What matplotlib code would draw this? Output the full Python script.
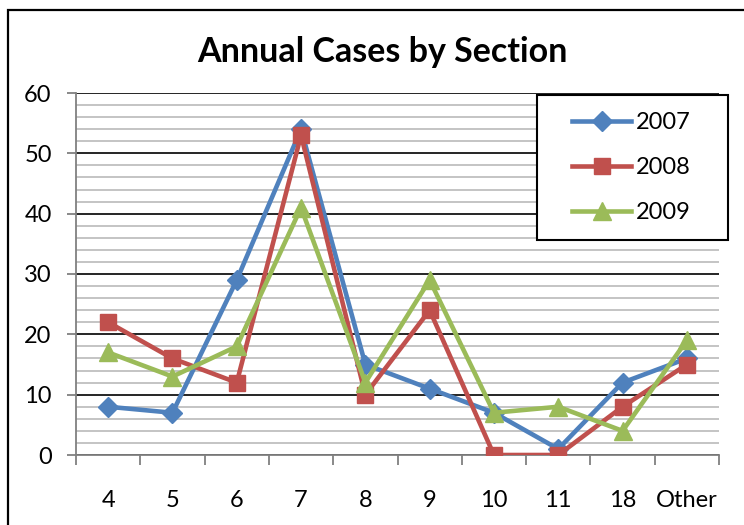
import matplotlib
matplotlib.use("Agg")
import matplotlib.pyplot as plt
from matplotlib.patches import Rectangle
from matplotlib.ticker import MultipleLocator, FixedLocator

categories = ["4", "5", "6", "7", "8", "9", "10", "11", "18", "Other"]
s2007 = [8, 7, 29, 54, 15, 11, 7, 1, 12, 16]
s2008 = [22, 16, 12, 53, 10, 24, 0, 0, 8, 15]
s2009 = [17, 13, 18, 41, 12, 29, 7, 8, 4, 19]
series_names = ["2007", "2008", "2009"]

plt.rcParams['font.family'] = ['Lato', 'DejaVu Sans']

W, H = 744, 525
fig = plt.figure(figsize=(W / 100, H / 100), dpi=100)
ax = fig.add_axes([76 / W, 1 - 455 / H, (719 - 76) / W, (455 - 93) / H])

# outer chart border
fig.add_artist(Rectangle((8 / W, -0.05), 1.1, (1 - 10 / H) + 0.05, transform=fig.transFigure,
                         fill=False, edgecolor='black', linewidth=1.6, clip_on=False))

x = list(range(len(categories)))
ax.plot(x, s2007, color='#4F81BD', linewidth=3.3, marker='D', markersize=10, label=series_names[0], zorder=3)
ax.plot(x, s2008, color='#C0504D', linewidth=3.3, marker='s', markersize=12, label=series_names[1], zorder=4)
ax.plot(x, s2009, color='#9BBB59', linewidth=3.3, marker='^', markersize=13, label=series_names[2], zorder=5)

ax.set_xlim(-0.5, len(categories) - 0.5)
ax.set_ylim(0, 60)

# gridlines
ax.yaxis.set_major_locator(MultipleLocator(10))
ax.yaxis.set_minor_locator(MultipleLocator(2))
ax.grid(axis='y', which='minor', color='#BFBFBF', linewidth=1.3, zorder=0)
ax.grid(axis='y', which='major', color='black', linewidth=1.2, zorder=1)
ax.set_axisbelow(True)

# x ticks at category boundaries
ax.set_xticks(x)
ax.set_xticklabels(categories, fontsize=17)
ax.xaxis.set_minor_locator(FixedLocator([i - 0.5 for i in range(len(categories) + 1)]))
ax.tick_params(axis='x', which='major', length=0, pad=25)
ax.tick_params(axis='x', which='minor', length=7, width=1.3, color='#808080', direction='out')
ax.tick_params(axis='y', which='major', length=6.5, width=1.3, color='#808080', labelsize=17, pad=11)
ax.tick_params(axis='y', which='minor', length=0)

for s in ['top', 'right']:
    ax.spines[s].set_visible(False)
for s in ['left', 'bottom']:
    ax.spines[s].set_color('#808080')
    ax.spines[s].set_linewidth(1.3)
    ax.spines[s].set_zorder(2)

fig.text(382 / W, 1 - 52 / H, "Annual Cases by Section", ha='center', va='center',
         fontsize=24.5, fontweight='bold')

# legend box (drawn separately for exact size)
fig.add_artist(Rectangle((537 / W, 1 - 240 / H), (728 - 537) / W, (240 - 95) / H,
                         transform=fig.transFigure, facecolor='white', edgecolor='black',
                         linewidth=1.5, zorder=9))
leg = ax.legend(loc='upper left', bbox_to_anchor=(572 / W, 1 - 112 / H), bbox_transform=fig.transFigure,
                fontsize=17, frameon=False, handlelength=2.5, handletextpad=0.2,
                labelspacing=1.02, borderpad=0, borderaxespad=0)
leg.set_zorder(10)
fig.add_artist(leg)

fig.savefig("out.png", dpi=100)
